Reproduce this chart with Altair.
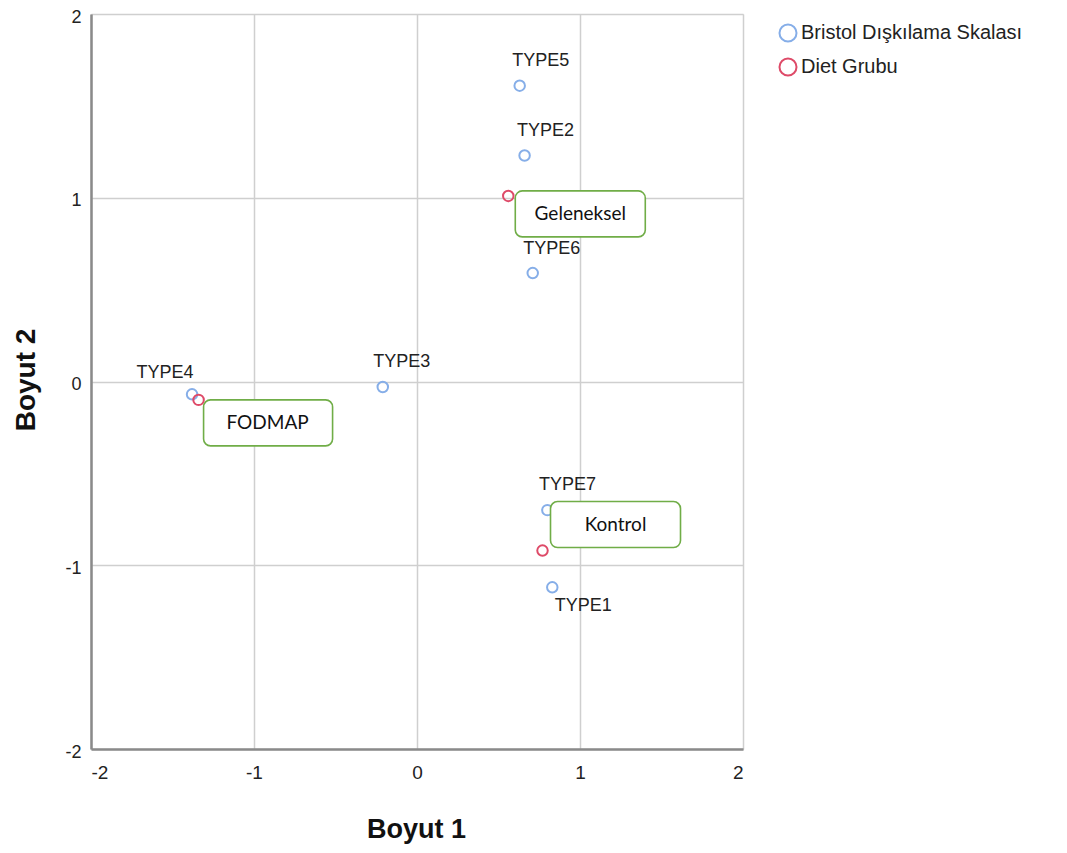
import altair as alt
import pandas as pd

# ---- data ----
point_names = ["TYPE1", "TYPE2", "TYPE3", "TYPE4", "TYPE5", "TYPE6", "TYPE7",
               "Geleneksel", "FODMAP", "Kontrol"]
dim1 = [0.83, 0.66, -0.21, -1.38, 0.63, 0.71, 0.80, 0.56, -1.34, 0.77]
dim2 = [-1.12, 1.23, -0.03, -0.07, 1.61, 0.59, -0.70, 1.01, -0.10, -0.92]
groups = ["Bristol Dışkılama Skalası"] * 7 + ["Diet Grubu"] * 3
group_order = ["Bristol Dışkılama Skalası", "Diet Grubu"]
ticks = [-2, -1, 0, 1, 2]

df = pd.DataFrame({"name": point_names, "d1": dim1, "d2": dim2, "grp": groups})

# ---- styling (pixel offsets for annotations) ----
type_label_offsets = {
    "TYPE1": (31, 19), "TYPE2": (21, -24), "TYPE3": (19, -25), "TYPE4": (-27, -21),
    "TYPE5": (21, -25), "TYPE6": (19, -24), "TYPE7": (20, -25),
}
# box: xOffset, x2Offset, yOffset, y2Offset ; text dx, dy
box_offsets = {
    "Geleneksel": (7, 137, -5, 41, 72, 18),
    "FODMAP": (5, 134, 0, 46, 69, 23),
    "Kontrol": (8, 138, -49, -3, 73, -26),
}

W, H = 652, 735
FONT = "Liberation Sans"

xs = alt.Scale(domain=[-2, 2], nice=False, zero=False)
ys = alt.Scale(domain=[-2, 2], nice=False, zero=False)

x_axis = alt.Axis(values=ticks, title="Boyut 1", grid=True, ticks=False, tickSize=0,
                  labelExpr="'' + datum.value",
                  labelPadding=14, labelFontSize=19, labelFont=FONT, labelColor="#222",
                  domainColor="#8a8a8a", domainWidth=2.5,
                  gridColor="#cfcfcf", gridWidth=1.5,
                  titleFont=FONT, titleFontSize=27, titleFontWeight="bold", titleColor="#111",
                  titleX=W / 2 - 1, titleY=80, titleBaseline="middle", titleAlign="center")
y_axis = alt.Axis(values=ticks, title="Boyut 2", grid=True, ticks=False, tickSize=0,
                  labelExpr="'' + datum.value",
                  labelPadding=10, labelFontSize=18, labelFont=FONT, labelColor="#222",
                  labelOffset=3,
                  domainColor="#8a8a8a", domainWidth=2.5,
                  gridColor="#cfcfcf", gridWidth=1.5,
                  titleFont=FONT, titleFontSize=28, titleFontWeight="bold", titleColor="#111",
                  titleX=-65, titleY=H / 2 - 2, titleBaseline="middle", titleAlign="center",
                  titleAngle=270)

base = alt.Chart(df)

points = base.mark_point(filled=False, strokeWidth=2, size=110, opacity=1).encode(
    x=alt.X("d1:Q", scale=xs, axis=x_axis),
    y=alt.Y("d2:Q", scale=ys, axis=y_axis),
    color=alt.Color("grp:N",
                    scale=alt.Scale(domain=group_order, range=["#86aee8", "#de4a68"]),
                    legend=alt.Legend(title=None, orient="none", legendX=687, legendY=9,
                                      symbolType="circle", symbolSize=290,
                                      symbolStrokeWidth=2, labelFontSize=20,
                                      labelFont=FONT, labelColor="#222", labelLimit=400,
                                      rowPadding=8, padding=0, labelOffset=3)),
)

layers = [points]

for name, (dx, dy) in type_label_offsets.items():
    layers.append(
        base.transform_filter(alt.datum.name == name).mark_text(
            dx=dx, dy=dy, fontSize=18, font=FONT, color="#222"
        ).encode(x=alt.X("d1:Q", scale=xs), y=alt.Y("d2:Q", scale=ys), text="name:N")
    )

for name, (xo, x2o, yo, y2o, tdx, tdy) in box_offsets.items():
    sub = base.transform_filter(alt.datum.name == name)
    layers.append(
        sub.mark_rect(xOffset=xo, x2Offset=x2o, yOffset=yo, y2Offset=y2o,
                      fill="white", stroke="#70ad47", strokeWidth=1.6, cornerRadius=7).encode(
            x=alt.X("d1:Q", scale=xs), x2=alt.X2("d1"),
            y=alt.Y("d2:Q", scale=ys), y2=alt.Y2("d2"))
    )
    layers.append(
        sub.mark_text(dx=tdx, dy=tdy, fontSize=19, font="Lato", color="#111").encode(
            x=alt.X("d1:Q", scale=xs), y=alt.Y("d2:Q", scale=ys), text="name:N")
    )

chart = alt.layer(*layers).properties(
    width=W, height=H,
    autosize=alt.AutoSizeParams(type="none"),
    padding={"left": 83, "top": 6, "right": 300, "bottom": 95},
).configure_view(stroke=None).configure(background="white")

chart.save("out.html", embed_options={"renderer": "svg", "actions": False})
